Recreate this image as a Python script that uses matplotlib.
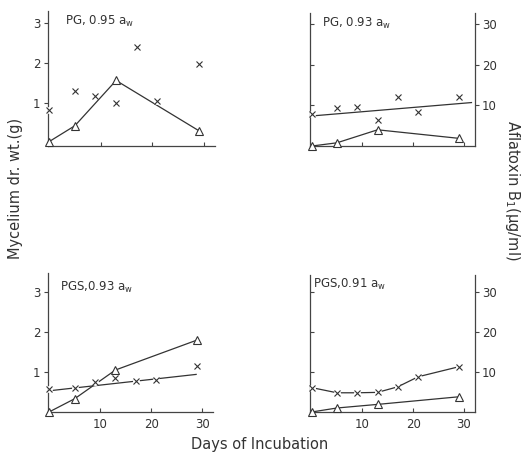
import numpy as np
import matplotlib
import matplotlib.pyplot as plt

matplotlib.rcParams['mathtext.default'] = 'regular'
matplotlib.rcParams['font.family'] = 'DejaVu Sans'

ink = '#333333'

# 取样天数
days = [0, 5, 9, 13, 17, 21, 29]
tri_days = [0, 5, 13, 29]

# 菌丝干重 (g)
myc_pg95 = [0.02, 0.42, 1.56, 0.30]
myc_pg93 = [0.0, 0.08, 0.40, 0.19]
myc_pgs93 = [0.0, 0.33, 1.05, 1.80]
myc_pgs91 = [0.0, 0.10, 0.19, 0.38]

# 黄曲霉毒素 B1 (ug/ml)
afl_pg95 = [8.2, 13.0, 11.7, 10.0, 24.1, 10.5, 19.7]
afl_pg93 = [7.8, 9.3, 9.6, 6.4, 12.1, 8.3, 12.1]
afl_pgs93 = [5.8, 6.0, 7.5, 8.4, 7.7, 8.1, 11.5]
afl_pgs91 = [6.1, 4.8, 4.8, 4.9, 6.3, 8.8, 11.3]

# 手画的趋势线两端
fit_pg93_days = [0, 31.5]
fit_pg93 = [7.4, 10.7]
fit_pgs93_days = [0, 28.8]
fit_pgs93 = [5.3, 9.4]

titles = ['PG, 0.95 a$_w$', 'PG, 0.93 a$_w$', 'PGS,0.93 a$_w$', 'PGS,0.91 a$_w$']

fig = plt.figure(figsize=(5.22, 4.55), dpi=100)
boxes = [[0.091, 0.679, 0.321, 0.297],
         [0.594, 0.679, 0.316, 0.293],
         [0.091, 0.0945, 0.318, 0.305],
         [0.594, 0.0945, 0.316, 0.301]]
ylims = [(-0.09, 3.31), (0, 3.28), (0, 3.47), (0, 3.42)]
title_pos = [(0.105, 0.975), (0.07, 0.98), (0.075, 0.95), (0.02, 0.99)]

axes = []
for i, box in enumerate(boxes):
    ax = fig.add_axes(box)
    ax.set_xlim(-0.3, 32.2)
    ax.set_ylim(*ylims[i])
    for s in ['top', 'right']:
        ax.spines[s].set_visible(False)
    for s in ['left', 'bottom']:
        ax.spines[s].set_color('#444444')
        ax.spines[s].set_linewidth(0.9)
    ax.set_xticks([10, 20, 30])
    ax.set_yticks([1, 2, 3])
    ax.tick_params(axis='x', direction='in', length=3, width=0.8, color='#444444',
                   labelsize=8.5, labelcolor=ink, pad=4)
    if i % 2 == 0:
        ax.tick_params(axis='y', direction='out', length=3, width=0.8, color='#444444',
                       labelsize=8.5, labelcolor=ink, pad=2)
        ax.set_yticklabels(['1', '2', '3'])
    else:
        ax.tick_params(axis='y', direction='in', length=3, width=0.8, color='#444444',
                       labelleft=False)
        # 右侧毒素坐标
        ax2 = ax.twinx()
        ax2.set_ylim(ylims[i][0] * 10, ylims[i][1] * 10)
        for s in ['top', 'left', 'bottom']:
            ax2.spines[s].set_visible(False)
        ax2.spines['right'].set_color('#444444')
        ax2.spines['right'].set_linewidth(0.9)
        ax2.set_yticks([10, 20, 30])
        ax2.tick_params(axis='y', direction='out', length=3, width=0.8, color='#444444',
                        labelsize=8.5, labelcolor=ink, pad=2)
    if i < 2:
        ax.tick_params(axis='x', labelbottom=False)
    ax.text(title_pos[i][0], title_pos[i][1], titles[i], transform=ax.transAxes,
            ha='left', va='top', fontsize=8.5, color=ink)
    axes.append(ax)


def draw_tri(ax, y, line=True):
    ax.plot(tri_days, y, color=ink, lw=0.9, ls='-' if line else 'none',
            marker='^', ms=6, mfc='white', mec=ink, mew=0.8, zorder=4, clip_on=False)


def draw_x(ax, y):
    # 毒素值按 1:10 画在菌丝坐标上
    v = np.array(y) / 10.0
    ax.plot(days, v, ls='none', marker='o', ms=5, mfc='white', mec='none', zorder=5)
    ax.plot(days, v, ls='none', marker='x', ms=3.8, mec=ink, mew=0.8, zorder=6, clip_on=False)


# PG 0.95
draw_tri(axes[0], myc_pg95)
draw_x(axes[0], afl_pg95)

# PG 0.93
draw_tri(axes[1], myc_pg93)
axes[1].plot(fit_pg93_days, np.array(fit_pg93) / 10.0, color=ink, lw=0.9, zorder=3)
draw_x(axes[1], afl_pg93)

# PGS 0.93
draw_tri(axes[2], myc_pgs93)
axes[2].plot(fit_pgs93_days, np.array(fit_pgs93) / 10.0, color=ink, lw=0.9, zorder=3)
draw_x(axes[2], afl_pgs93)

# PGS 0.91
draw_tri(axes[3], myc_pgs91)
axes[3].plot(days, np.array(afl_pgs91) / 10.0, color=ink, lw=0.9, zorder=3)
draw_x(axes[3], afl_pgs91)

fig.text(0.030, 0.585, 'Mycelium dr. wt.(g)', rotation=90, ha='center', va='center',
         fontsize=10.5, color=ink)
fig.text(0.981, 0.582, 'Aflatoxin B$_1$(µg/ml)', rotation=270, ha='center', va='center',
         fontsize=10.5, color=ink)
fig.text(0.498, 0.022, 'Days of Incubation', ha='center', va='center',
         fontsize=10.5, color=ink)

fig.savefig('out.png', dpi=100, facecolor='white')
